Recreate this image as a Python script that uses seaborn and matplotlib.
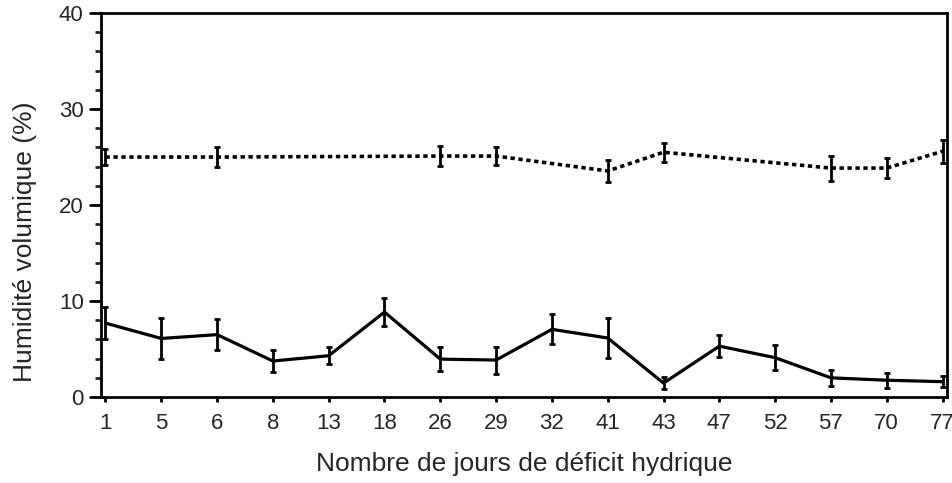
import matplotlib
matplotlib.use("Agg")
import matplotlib.pyplot as plt
import numpy as np
import pandas as pd
import seaborn as sns
from matplotlib.ticker import MultipleLocator

days = [1, 5, 6, 8, 13, 18, 26, 29, 32, 41, 43, 47, 52, 57, 70, 77]
low = [7.7, 6.1, 6.5, 3.75, 4.3, 8.85, 3.95, 3.85, 7.05, 6.15, 1.45, 5.3, 4.1, 2.0, 1.75, 1.6]
low_err = [1.65, 2.1, 1.65, 1.1, 0.9, 1.45, 1.25, 1.4, 1.55, 2.1, 0.65, 1.15, 1.3, 0.8, 0.8, 0.55]

high_days = [1, 6, 26, 29, 41, 43, 57, 70, 77]
high = [25.0, 25.0, 25.1, 25.1, 23.55, 25.5, 23.85, 23.85, 25.6]
high_err = [0.8, 1.0, 1.0, 0.9, 1.1, 1.0, 1.3, 1.05, 1.2]

sns.set_style("ticks")
plt.rcParams['font.family'] = ['Liberation Sans', 'DejaVu Sans']

pos = {d: i for i, d in enumerate(days)}
df_low = pd.DataFrame({"x": [pos[d] for d in days], "y": low, "e": low_err})
df_high = pd.DataFrame({"x": [pos[d] for d in high_days], "y": high, "e": high_err})

fig = plt.figure(figsize=(9.53, 4.83), dpi=100)
ax = fig.add_axes([0.106, 0.178, 0.8877, 0.795])

# sol sec (trait plein)
sns.lineplot(data=df_low, x="x", y="y", color="black", lw=2.3, ax=ax)
ax.errorbar(df_low["x"], df_low["y"], yerr=df_low["e"], fmt="none",
            ecolor="black", elinewidth=2, capsize=2.5, capthick=2)

# témoin (pointillés)
sns.lineplot(data=df_high, x="x", y="y", color="black", lw=2.6, ax=ax,
             linestyle=(0, (1.2, 1.0)))
ax.errorbar(df_high["x"], df_high["y"], yerr=df_high["e"], fmt="none",
            ecolor="black", elinewidth=2, capsize=2.5, capthick=2)

ax.set_xlim(-0.08, 15.08)
ax.set_ylim(0, 40)
ax.set_xticks(range(len(days)))
ax.set_xticklabels([str(d) for d in days])
ax.yaxis.set_major_locator(MultipleLocator(10))
ax.yaxis.set_minor_locator(MultipleLocator(2))
ax.tick_params(axis="both", which="major", labelsize=16, width=2, color="black")
ax.tick_params(axis="y", which="major", length=8.5, pad=4)
ax.tick_params(axis="y", which="minor", width=2, length=4.5)
ax.tick_params(axis="x", which="major", length=3.5, pad=8)
for s in ax.spines.values():
    s.set_linewidth(2)
    s.set_color("black")

ax.set_xlabel("Nombre de jours de déficit hydrique", fontsize=19, labelpad=13)
ax.set_ylabel("Humidité volumique (%)", fontsize=19)
ax.yaxis.set_label_coords(-0.076, 0.404)

fig.savefig("out.png", dpi=100)
